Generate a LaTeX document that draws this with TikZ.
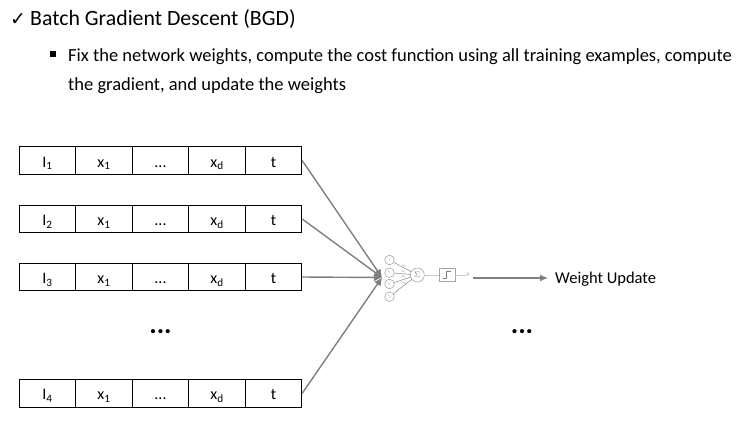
\documentclass[tikz,border=0pt]{standalone}
\usepackage{fontspec}
\setmainfont{Carlito}
\newfontfamily\symbfont{DejaVu Sans}
\usetikzlibrary{positioning,arrows.meta,calc}
\definecolor{uLine}{HTML}{7F7F7F}
\definecolor{uIcon}{HTML}{A6A6A6}
\tikzset{
  cell/.style={draw=black, thick, minimum height=27.5pt, inner sep=0pt, text height=13pt, text depth=0pt, font=\fontsize{16}{18}\selectfont},
  wide/.style={cell, minimum width=56.6pt},
  feed/.style={-{Latex[length=8pt,width=8pt]}, uLine, line width=1.4pt},
  head/.style={font=\fontsize{21.8}{26}\selectfont, anchor=base west, inner sep=0pt},
  body/.style={font=\fontsize{18.5}{22}\selectfont, anchor=base west, inner sep=0pt},
  dots/.style={font=\bfseries\fontsize{28}{28}\selectfont, inner sep=0pt},
  unit/.style={draw=uIcon!80!black, circle, inner sep=0pt, minimum size=9.5pt, font=\fontsize{3}{3}\selectfont, text=uLine},
  wire/.style={uIcon!80!black, line width=0.5pt},
  wlbl/.style={font=\fontsize{3}{3}\selectfont, text=uLine, inner sep=0pt},
}
\newcommand{\sbs}[1]{\textsubscript{#1}}

\begin{document}
\begin{tikzpicture}[x=1pt, y=-1pt]
\useasboundingbox (0,0) rectangle (745,424);

\def\XA{47.5}  % cell centres
\def\XB{104}
\def\XC{160.5}
\def\XD{217}
\def\XE{273.5}

%% heading
\node[head, font=\symbfont\fontsize{19}{22}\selectfont] (tick) at (10,25) {✓};
\node[head] (title) at (30,25.5) {Batch Gradient Descent (BGD)};
\node[draw=black, fill=black, minimum size=5pt, inner sep=0pt] (bullet) at (53,54) {};
\node[body] (lineA) at (68,61) {Fix the network weights, compute the cost function using all training examples, compute};
\node[body] (lineB) at (68,90) {the gradient, and update the weights};

%% rows of the batch
\node[wide] (a1) at (\XA,160.5) {I\sbs{1}};
\node[wide] (a2) at (\XB,160.5) {x\sbs{1}};
\node[wide] (a3) at (\XC,160.5) {...};
\node[wide] (a4) at (\XD,160.5) {x\sbs{d}};
\node[wide] (a5) at (\XE,160.5) {t};

\node[wide] (b1) at (\XA,219) {I\sbs{2}};
\node[wide] (b2) at (\XB,219) {x\sbs{1}};
\node[wide] (b3) at (\XC,219) {...};
\node[wide] (b4) at (\XD,219) {x\sbs{d}};
\node[wide] (b5) at (\XE,219) {t};

\node[wide] (c1) at (\XA,277) {I\sbs{3}};
\node[wide] (c2) at (\XB,277) {x\sbs{1}};
\node[wide] (c3) at (\XC,277) {...};
\node[wide] (c4) at (\XD,277) {x\sbs{d}};
\node[wide] (c5) at (\XE,277) {t};

\node[wide] (d1) at (\XA,393.3) {I\sbs{4}};
\node[wide] (d2) at (\XB,393.3) {x\sbs{1}};
\node[wide] (d3) at (\XC,393.3) {...};
\node[wide] (d4) at (\XD,393.3) {x\sbs{d}};
\node[wide] (d5) at (\XE,393.3) {t};

\node[dots] (gapL) at (160.5,332) {...};
\node[dots] (gapR) at (522,332) {...};

%% small neuron
\coordinate (hub) at (382,277.5);
\node[unit] (in1) at (389.5,260) {1};
\node[unit] (in2) at (389.5,272.7) {x\sbs{1}};
\node[unit] (in3) at (389.5,284) {x\sbs{2}};
\node[unit] (in4) at (389.5,296.7) {x\sbs{d}};
\node[draw=uIcon!80!black, circle, inner sep=0pt, minimum size=14pt, text=uLine, font=\fontsize{8}{8}\selectfont] (sum) at (417.3,275) {$\Sigma$};
\node[draw=uIcon, minimum width=16pt, minimum height=13pt, inner sep=0pt] (thr) at (446.7,275) {};
\draw[uLine, line width=0.6pt] ($(thr.center)+(-4,3.5)$) -- ++(4,0) -- ++(0,-7) -- ++(4,0);
\node[font=\fontsize{5}{5}\selectfont, text=uLine, inner sep=0pt] (out) at (468.3,275) {y};
\draw[wire] (in1) -- node[wlbl, above=0.5pt, pos=0.6] {w\sbs{0}} (sum);
\draw[wire] (in2) -- node[wlbl, above=0.5pt, pos=0.6] {w\sbs{1}} (sum);
\draw[wire] (in3) -- node[wlbl, above=0.5pt, pos=0.6] {w\sbs{2}} (sum);
\draw[wire] (in4) -- node[wlbl, above=0.5pt, pos=0.6] {w\sbs{d}} (sum);
\draw[uIcon!60] (sum) -- (thr);
\draw[uIcon!60] (thr) -- (out);

%% every row feeds the neuron
\draw[feed] (a5.east) -- (hub);
\draw[feed] (b5.east) -- (hub);
\draw[feed] (c5.east) -- (hub);
\draw[feed] (d5.east) -- (hub);

%% update
\node[font=\fontsize{16.5}{20}\selectfont, anchor=west, inner sep=0pt] (update) at (555,279) {Weight Update};
\coordinate (tail) at (473,278);
\draw[-{Latex[length=8pt,width=7pt]}, uLine, line width=1.3pt] (tail) -- (548,278);
\end{tikzpicture}
\end{document}
